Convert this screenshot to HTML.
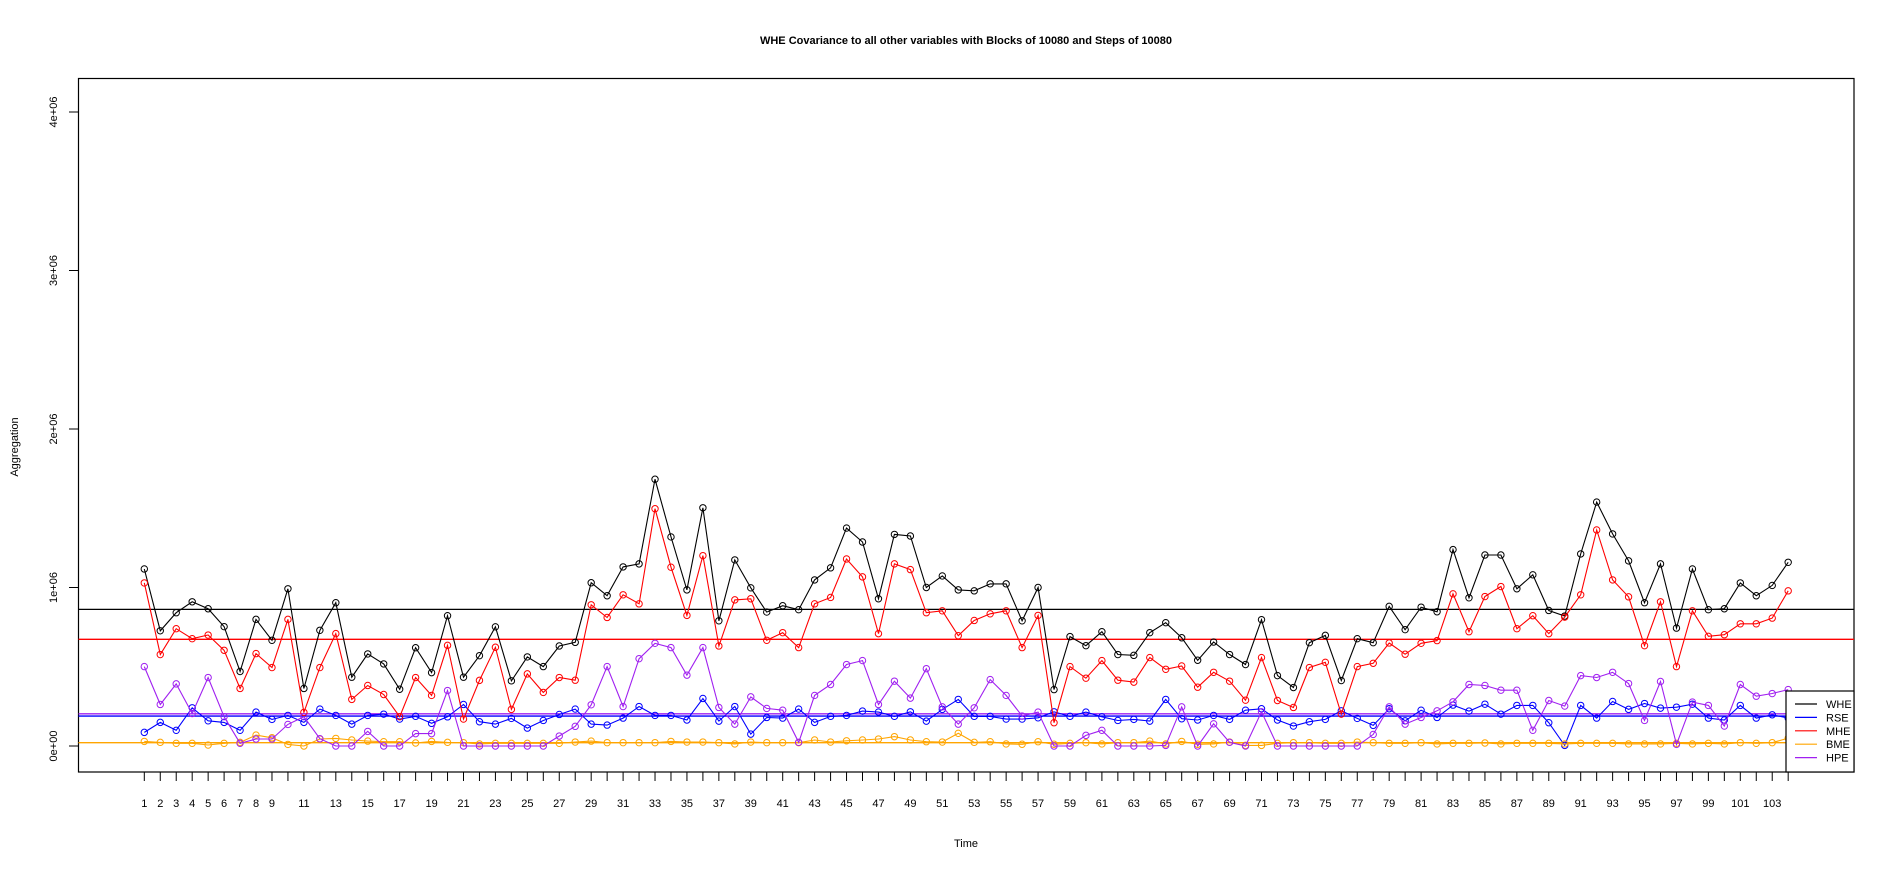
<!DOCTYPE html>
<html><head><meta charset="utf-8"><style>
html,body{margin:0;padding:0;background:#fff;}
svg{display:block;font-family:"Liberation Sans",Arial,sans-serif;}
</style></head><body>
<svg id="chart" width="1895" height="870" viewBox="0 0 1895 870" xmlns="http://www.w3.org/2000/svg">
<text x="966" y="44" font-size="11" font-weight="bold" text-anchor="middle">WHE Covariance to all other variables with Blocks of 10080 and Steps of 10080</text>
<text x="966" y="847" font-size="11" text-anchor="middle">Time</text>
<text x="0" y="0" font-size="11" text-anchor="middle" transform="translate(18,447) rotate(-90)">Aggregation</text>
<rect x="78.5" y="78.5" width="1775.5" height="693.5" fill="none" stroke="#000" stroke-width="1.2"/>
<g id="axes"></g>
<g id="means"></g>
<g id="series"></g>
<g id="legend"></g>
</svg>
<script>
const categories = Array.from({length:104},(_,i)=>i+1);
const yTicks = [0,1,2,3,4];
const yTickLabels = ["0e+00","1e+06","2e+06","3e+06","4e+06"];
const seriesNames = ["WHE","RSE","MHE","BME","HPE"];
const seriesColors = ["#000000","#0000ff","#ff0000","#ffa500","#a020f0"];
const meanValues = [0.862,0.189,0.673,0.021,0.203];
const WHE = [1.117,0.727,0.841,0.910,0.866,0.753,0.470,0.799,0.667,0.992,0.363,0.730,0.904,0.434,0.581,0.518,0.358,0.620,0.463,0.822,0.434,0.570,0.752,0.411,0.562,0.501,0.631,0.654,1.030,0.948,1.130,1.149,1.683,1.319,0.985,1.503,0.790,1.174,0.998,0.845,0.885,0.860,1.048,1.124,1.375,1.287,0.929,1.335,1.325,1.000,1.073,0.985,0.979,1.023,1.023,0.790,1.000,0.356,0.690,0.633,0.721,0.577,0.572,0.715,0.778,0.683,0.541,0.656,0.577,0.514,0.797,0.444,0.369,0.652,0.698,0.413,0.677,0.652,0.881,0.734,0.876,0.847,1.239,0.935,1.205,1.205,0.992,1.080,0.855,0.820,1.212,1.539,1.338,1.168,0.904,1.149,0.744,1.117,0.860,0.866,1.029,0.948,1.013,1.159];
const MHE = [1.029,0.577,0.740,0.677,0.700,0.604,0.363,0.583,0.495,0.799,0.212,0.495,0.709,0.294,0.382,0.325,0.185,0.432,0.319,0.635,0.170,0.414,0.623,0.231,0.455,0.338,0.432,0.415,0.891,0.811,0.954,0.897,1.497,1.128,0.824,1.201,0.631,0.922,0.929,0.667,0.715,0.621,0.897,0.937,1.180,1.067,0.709,1.149,1.113,0.841,0.853,0.696,0.792,0.834,0.853,0.621,0.824,0.147,0.501,0.428,0.539,0.415,0.403,0.558,0.484,0.505,0.371,0.465,0.409,0.289,0.558,0.287,0.243,0.495,0.528,0.201,0.501,0.522,0.650,0.579,0.648,0.665,0.960,0.721,0.943,1.006,0.740,0.822,0.709,0.813,0.954,1.363,1.048,0.941,0.633,0.910,0.501,0.853,0.692,0.702,0.771,0.771,0.807,0.979];
const HPE = [0.501,0.262,0.392,0.205,0.432,0.185,0.017,0.044,0.044,0.136,0.185,0.046,0,0,0.092,0,0,0.078,0.078,0.350,0,0,0,0,0,0,0.063,0.124,0.260,0.501,0.249,0.551,0.648,0.621,0.447,0.621,0.243,0.138,0.310,0.237,0.226,0.023,0.319,0.388,0.514,0.539,0.262,0.409,0.302,0.488,0.247,0.138,0.241,0.419,0.319,0.189,0.214,0,0,0.067,0.099,0,0,0,0.004,0.247,0,0.140,0.023,0,0.216,0,0,0,0,0,0,0.073,0.247,0.138,0.180,0.222,0.279,0.388,0.382,0.352,0.352,0.099,0.287,0.252,0.444,0.432,0.465,0.394,0.161,0.407,0.010,0.277,0.256,0.126,0.388,0.314,0.331,0.356];
const RSE = [0.086,0.149,0.099,0.241,0.159,0.149,0.099,0.214,0.168,0.193,0.149,0.233,0.193,0.138,0.193,0.201,0.170,0.187,0.143,0.184,0.262,0.153,0.138,0.174,0.113,0.161,0.199,0.233,0.138,0.132,0.176,0.249,0.193,0.193,0.164,0.300,0.157,0.249,0.075,0.180,0.176,0.233,0.149,0.187,0.193,0.220,0.214,0.187,0.216,0.157,0.231,0.294,0.187,0.187,0.170,0.170,0.178,0.216,0.187,0.214,0.184,0.161,0.168,0.157,0.294,0.172,0.164,0.193,0.168,0.226,0.235,0.164,0.126,0.153,0.168,0.222,0.174,0.130,0.235,0.159,0.226,0.180,0.258,0.220,0.264,0.201,0.256,0.256,0.147,0.004,0.256,0.176,0.281,0.231,0.268,0.239,0.245,0.264,0.176,0.164,0.256,0.176,0.197,0.176];
const BME = [0.029,0.023,0.017,0.017,0.006,0.017,0.023,0.069,0.052,0.010,0,0.044,0.048,0.038,0.031,0.027,0.027,0.019,0.029,0.023,0.021,0.013,0.017,0.017,0.017,0.017,0.017,0.025,0.031,0.021,0.021,0.021,0.021,0.029,0.025,0.025,0.021,0.013,0.025,0.021,0.021,0.021,0.038,0.025,0.033,0.038,0.044,0.059,0.038,0.027,0.025,0.080,0.023,0.027,0.013,0.011,0.027,0.011,0.017,0.021,0.013,0.021,0.021,0.031,0.013,0.029,0.011,0.013,0.025,0.004,0.004,0.017,0.021,0.021,0.017,0.017,0.025,0.021,0.017,0.017,0.021,0.013,0.017,0.017,0.019,0.013,0.017,0.017,0.017,0.013,0.017,0.017,0.017,0.013,0.013,0.013,0.017,0.013,0.017,0.013,0.021,0.017,0.021,0.050];

const NS="http://www.w3.org/2000/svg";
function xPos(i){return 144.3+(i-1)*15.96;}
function yPos(v){return 746-v*158.5;}
function mk(tag,attrs,parent){const e=document.createElementNS(NS,tag);for(const k in attrs)e.setAttribute(k,attrs[k]);parent.appendChild(e);return e;}
const axes=document.getElementById('axes');
yTicks.forEach((t,j)=>{
  const y=yPos(t);
  const tk=mk('line',{x1:69,x2:78,y1:y,y2:y,stroke:'#000','stroke-width':1},axes);
  
  
  const lb=mk('text',{x:0,y:0,'font-size':11,'text-anchor':'middle',transform:`translate(57,${y}) rotate(-90)`},axes);
  lb.textContent=yTickLabels[j];
  
  
});
categories.forEach(c=>{
  const x=xPos(c);
  const tk=mk('line',{x1:x,x2:x,y1:772,y2:781,stroke:'#000','stroke-width':1},axes);
  
  
  if(c<10 || c%2===1){
    const lb=mk('text',{x:x,y:807,'font-size':11,'text-anchor':'middle'},axes);
    lb.textContent=String(c);
    
    
  }
});
const means=document.getElementById('means');
meanValues.forEach((m,j)=>{
  const y=yPos(m);
  const ln=mk('line',{x1:78.5,x2:1854,y1:y,y2:y,stroke:seriesColors[j],'stroke-width':1.3},means);
  
  
});
const seriesData=[WHE,RSE,MHE,BME,HPE];
const sg=document.getElementById('series');
seriesData.forEach((arr,j)=>{
  const g=mk('g',{},sg);
  
  
  const pts=arr.map((v,i)=>xPos(categories[i]).toFixed(1)+','+yPos(v).toFixed(1)).join(' ');
  const pl=mk('polyline',{points:pts,fill:'none',stroke:seriesColors[j],'stroke-width':1.1},g);
  
  
  arr.forEach((v,i)=>{
    const c=mk('circle',{cx:xPos(categories[i]),cy:yPos(v),r:3.2,fill:'none',stroke:seriesColors[j],'stroke-width':1},g);
    
    
  });
});
const lg=document.getElementById('legend');
mk('rect',{x:1786,y:691,width:68,height:81,fill:'#fff',stroke:'#000','stroke-width':1.2},lg);
seriesNames.forEach((n,j)=>{
  const y=704+j*13.4;
  const ln=mk('line',{x1:1795,x2:1817,y1:y,y2:y,stroke:seriesColors[j],'stroke-width':1.2},lg);
  
  
  const t=mk('text',{x:1826,y:y+4,'font-size':11},lg);
  t.textContent=n;
  
  
});
</script>
</body></html>
